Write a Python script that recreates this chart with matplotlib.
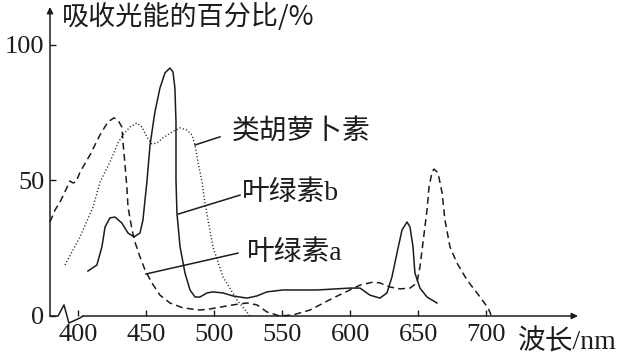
import matplotlib
matplotlib.use("Agg")
import matplotlib.pyplot as plt

FONT = ['Liberation Serif', 'Noto Sans CJK SC', 'DejaVu Sans']
SANS = ['Noto Sans CJK SC', 'DejaVu Sans']
INK = '#1c1c1c'

# 叶绿素a (dashed)
chl_a_wl = [379.1, 382.8, 386.5, 390.1, 393.8, 396.0, 398.2, 401.2, 408.5, 415.9,
            421.7, 426.2, 429.1, 432.0, 432.8, 434.3, 435.7, 436.5, 439.5, 441.6,
            445.3, 449.0, 454.1, 460.0, 467.4, 476.9, 489.4, 496.8, 513.7, 524.0,
            531.4, 538.7, 548.3, 557.9, 570.4, 587.3, 607.2, 616.7, 621.9, 629.2,
            636.6, 644.0, 649.1, 651.3, 653.5, 656.5, 658.0, 660.2, 661.7, 664.6,
            667.6, 669.7, 673.4, 678.5, 685.9, 693.3, 701.4, 703.6]
chl_a_val = [34.7, 39.1, 42.1, 45.8, 49.8, 49.1, 49.4, 53.1, 59.4, 66.8,
             71.6, 73.1, 72.3, 69.7, 64.2, 55.7, 47.2, 40.2, 31.7, 27.3,
             21.8, 17.0, 12.2, 7.7, 4.8, 3.0, 2.2, 2.6, 4.1, 4.8,
             4.1, 1.5, 0.0, 0.4, 2.2, 6.6, 11.4, 12.5, 12.2, 10.7,
             10.0, 10.3, 12.2, 18.1, 26.9, 39.1, 47.6, 53.1, 54.2, 52.8,
             45.4, 35.4, 25.5, 19.6, 13.3, 8.5, 3.0, 0.4]

# 叶绿素b (solid)
chl_b_wl = [407.0, 413.6, 417.3, 419.6, 423.2, 426.9, 432.0, 436.5, 440.9, 445.3,
            447.5, 449.0, 450.4, 452.7, 456.3, 460.0, 463.7, 467.4, 469.6, 471.0,
            471.8, 471.8, 472.5, 474.8, 478.4, 482.1, 485.8, 489.4, 494.6, 499.0,
            506.4, 513.7, 524.0, 531.4, 538.7, 550.5, 575.5, 599.8, 607.2, 614.5,
            621.9, 627.0, 630.7, 634.4, 638.1, 641.8, 644.0, 646.2, 647.6, 651.3,
            656.5, 663.8]
chl_b_val = [16.6, 18.8, 25.5, 32.8, 36.2, 36.5, 34.3, 30.6, 29.2, 30.6,
             35.4, 42.8, 49.4, 63.1, 75.3, 84.1, 89.7, 91.5, 90.0, 84.1,
             71.6, 50.2, 38.0, 25.5, 15.9, 9.6, 7.0, 7.0, 8.5, 8.9,
             8.5, 7.4, 6.6, 7.4, 8.9, 9.6, 9.6, 10.3, 10.3, 7.7,
             6.6, 8.5, 14.4, 23.2, 31.7, 34.7, 32.8, 25.5, 15.9, 10.3,
             7.0, 4.8]

# 类胡萝卜素 (dotted)
carot_wl = [390.1, 401.2, 410.8, 415.9, 423.2, 429.1, 432.8, 437.9, 443.1, 446.8,
            450.4, 454.1, 457.8, 462.2, 468.9, 474.8, 479.9, 483.6, 485.8, 488.0,
            491.0, 493.1, 499.0, 506.4, 516.7, 526.3]
carot_val = [18.8, 29.2, 40.2, 49.4, 56.8, 63.8, 66.8, 69.7, 71.2, 69.7,
             66.1, 63.5, 63.8, 65.7, 67.9, 69.4, 68.6, 66.8, 63.1, 56.8,
             49.4, 41.7, 25.5, 14.4, 5.9, 0.0]

x_ticks = [400, 450, 500, 550, 600, 650, 700]
y_ticks = [0, 50, 100]

fig = plt.figure(figsize=(6.2, 3.56), dpi=100)
ax = fig.add_axes([50 / 620, 40 / 356, 528 / 620, 309 / 356])
ax.set_xlim(379.1, 767.6)
ax.set_ylim(0, 114)

ax.plot(chl_a_wl, chl_a_val, color=INK, lw=1.1, linestyle=(0, (4.5, 2.8)), clip_on=False)
ax.plot(chl_b_wl, chl_b_val, color=INK, lw=1.1, clip_on=False)
ax.plot(carot_wl, carot_val, color=INK, lw=1.0, linestyle=(0, (0.8, 1.6)), clip_on=False)

for s in ax.spines.values():
    s.set_visible(False)

# axes with arrows; small break mark at the origin
ax.annotate('', xy=(0, 1), xytext=(0, 0), xycoords='axes fraction',
            arrowprops=dict(arrowstyle='-|>', lw=1.1, color=INK, mutation_scale=9,
                            shrinkA=0, shrinkB=0))
ax.annotate('', xy=(1, 0), xytext=(403.4, 0), xycoords='axes fraction',
            textcoords=('data', 'axes fraction'),
            arrowprops=dict(arrowstyle='-|>', lw=1.1, color=INK, mutation_scale=9,
                            shrinkA=0, shrinkB=0))
ax.plot([379.1, 385.0, 389.4, 393.0, 401.2, 403.4], [0, 0, 4.1, -2.6, -0.7, 0],
        color=INK, lw=1.1, clip_on=False)

ax.set_xticks(x_ticks)
ax.set_yticks(y_ticks)
ax.set_xticklabels([str(t) for t in x_ticks], family=FONT, fontsize=19)
ax.set_yticklabels([str(t) for t in y_ticks], family=FONT, fontsize=19)
ax.tick_params(axis='x', direction='in', length=4, width=1, color=INK, pad=6, labelcolor=INK)
ax.tick_params(axis='y', direction='in', length=4, width=1, color=INK, pad=4, labelcolor=INK)

fig.text(62 / 620, 1 - 17 / 356, '吸收光能的百分比/%', family=SANS, fontsize=19.5,
         color=INK, va='center', ha='left')
fig.text(518 / 620, 1 - 342 / 356, '波长/nm', family=FONT, fontsize=20,
         color=INK, va='center', ha='left')

# labels with leader lines
ax.plot([485.8, 504.2], [63.1, 66.1], color=INK, lw=1.1)
ax.text(512.9, 67.9, '类胡萝卜素', family=FONT, fontsize=20, color=INK, va='center')
ax.plot([473.4, 518.9], [37.6, 44.6], color=INK, lw=1.1)
ax.text(520.3, 45.4, '叶绿素b', family=FONT, fontsize=20, color=INK, va='center')
ax.plot([449.7, 517.4], [15.5, 23.2], color=INK, lw=1.1)
ax.text(524.0, 23.2, '叶绿素a', family=FONT, fontsize=20, color=INK, va='center')

fig.savefig('out.png', dpi=100)
